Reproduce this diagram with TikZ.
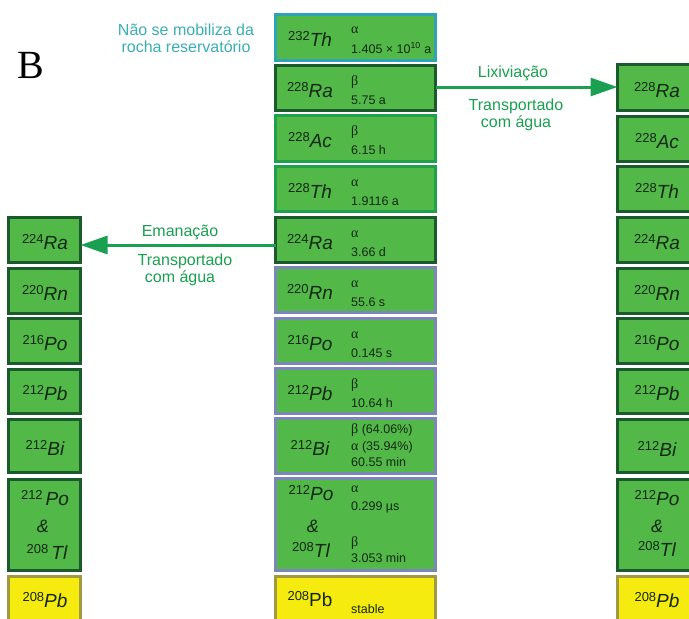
\documentclass[tikz,border=0pt]{standalone}
\usepackage{fontspec}
\setmainfont{Liberation Sans}
\newfontfamily\serifgr{Liberation Serif}
\usetikzlibrary{arrows.meta}
\definecolor{boxfill}{HTML}{52B848}
\definecolor{darkb}{HTML}{1B5A2C}
\definecolor{medb}{HTML}{1FA04A}
\definecolor{blueb}{HTML}{7D86B8}
\definecolor{tealb}{HTML}{2EA3B8}
\definecolor{yelfill}{HTML}{F5EB0F}
\definecolor{oliveb}{HTML}{A09B40}
\definecolor{arrgreen}{HTML}{1AA050}
\definecolor{tealtxt}{HTML}{3AAFB5}
\definecolor{txt}{HTML}{142814}
\newcommand\el[2]{\raisebox{6pt}{\fontsize{13}{13}\selectfont #1}{\fontsize{19}{19}\selectfont\itshape #2}}
\newcommand\elsp[2]{\raisebox{6pt}{\fontsize{13}{13}\selectfont #1}\kern3pt{\fontsize{19}{19}\selectfont\itshape #2}}
\newcommand\elup[2]{\raisebox{6pt}{\fontsize{13}{13}\selectfont #1}{\fontsize{19}{19}\selectfont #2}}
\newcommand\mkbox[6]{\node[#6, minimum width={#4-#2-3}, minimum height={#5-#3-3}] (#1) at ({(#2+#4)/2},{(#3+#5)/2}) {};}
\tikzset{
  cell/.style={draw, line width=3pt, fill=boxfill, inner sep=0pt, outer sep=0pt},
  dk/.style={cell, draw=darkb},
  md/.style={cell, draw=medb},
  bl/.style={cell, draw=blueb},
  tl/.style={cell, draw=tealb},
  yl/.style={cell, draw=oliveb, fill=yelfill},
  elt/.style={anchor=base, inner sep=0pt, text=txt},
  greek/.style={anchor=base west, inner sep=0pt, text=txt, font=\serifgr\fontsize{14}{14}\selectfont},
  hl/.style={anchor=base west, inner sep=0pt, text=txt, font=\fontsize{12.5}{14}\selectfont},
  lab/.style={anchor=base, inner sep=0pt, text=arrgreen, font=\fontsize{16}{18}\selectfont},
  arr/.style={draw=arrgreen, line width=3pt, -{Triangle[length=27pt,width=18pt]}},
}
\begin{document}
\begin{tikzpicture}[x=1pt,y=-1pt]
\clip (0,0) rectangle (689,619);
\fill[white] (0,0) rectangle (689,619);
% middle column
\mkbox{m1}{274}{13}{437}{62}{tl}
\mkbox{m2}{274}{64}{437}{112}{dk}
\mkbox{m3}{274}{114}{437}{163}{md}
\mkbox{m4}{274}{165}{437}{213}{md}
\mkbox{m5}{274}{216}{437}{264}{dk}
\mkbox{m6}{274}{266}{437}{314}{bl}
\mkbox{m7}{274}{317}{437}{365}{bl}
\mkbox{m8}{274}{367}{437}{415}{bl}
\mkbox{m9}{274}{417}{437}{475}{bl}
\mkbox{m10}{274}{477}{437}{572}{bl}
\mkbox{m11}{274}{575}{437}{632}{yl}
% left column
\mkbox{l1}{7}{216}{82}{264}{dk}
\mkbox{l2}{7}{267}{82}{315}{dk}
\mkbox{l3}{7}{317}{82}{365}{dk}
\mkbox{l4}{7}{368}{82}{415}{dk}
\mkbox{l5}{7}{418}{82}{474}{dk}
\mkbox{l6}{7}{478}{82}{572}{dk}
\mkbox{l7}{7}{575}{82}{632}{yl}
% right column
\mkbox{r1}{616}{63}{698}{112}{dk}
\mkbox{r2}{616}{115}{698}{163}{dk}
\mkbox{r3}{616}{165}{698}{213}{dk}
\mkbox{r4}{616}{216}{698}{264}{dk}
\mkbox{r5}{616}{267}{698}{315}{dk}
\mkbox{r6}{616}{317}{698}{365}{dk}
\mkbox{r7}{616}{368}{698}{415}{dk}
\mkbox{r8}{616}{418}{698}{474}{dk}
\mkbox{r9}{616}{478}{698}{572}{dk}
\mkbox{r10}{616}{575}{698}{632}{yl}
% middle texts
\node[elt] (m1e) at (310,46) {\el{232}{Th}};
\node[greek] (m1g) at (351,33) {α};
\node[hl] (m1h) at (351,53) {1.405 × 10\textsuperscript{10} a};
\node[elt] (m2e) at (310,97) {\el{228}{Ra}};
\node[greek] (m2g) at (351,85) {β};
\node[hl] (m2h) at (351,104) {5.75 a};
\node[elt] (m3e) at (310,147) {\el{228}{Ac}};
\node[greek] (m3g) at (351,135) {β};
\node[hl] (m3h) at (351,154) {6.15 h};
\node[elt] (m4e) at (310,198) {\el{228}{Th}};
\node[greek] (m4g) at (351,186) {α};
\node[hl] (m4h) at (351,205) {1.9116 a};
\node[elt] (m5e) at (310,249) {\el{224}{Ra}};
\node[greek] (m5g) at (351,237) {α};
\node[hl] (m5h) at (351,256) {3.66 d};
\node[elt] (m6e) at (310,299) {\el{220}{Rn}};
\node[greek] (m6g) at (351,287) {α};
\node[hl] (m6h) at (351,306) {55.6 s};
\node[elt] (m7e) at (310,350) {\el{216}{Po}};
\node[greek] (m7g) at (351,338) {α};
\node[hl] (m7h) at (351,357) {0.145 s};
\node[elt] (m8e) at (310,400) {\el{212}{Pb}};
\node[greek] (m8g) at (351,388) {β};
\node[hl] (m8h) at (351,407) {10.64 h};
\node[elt] (m9e) at (310,455) {\el{212}{Bi}};
\node[hl] (m9a) at (351,433) {{\serifgr\fontsize{14}{14}\selectfont β} (64.06\%)};
\node[hl] (m9b) at (351,450) {{\serifgr\fontsize{14}{14}\selectfont α} (35.94\%)};
\node[hl] (m9c) at (351,466) {60.55 min};
\node[elt] (m10e) at (311,500) {\el{212}{Po}};
\node[elt] (m10and) at (313,532) {\fontsize{18}{18}\selectfont\itshape \&};
\node[elt] (m10f) at (311,557) {\el{208}{Tl}};
\node[greek] (m10g) at (351,492) {α};
\node[hl] (m10h) at (351,510) {0.299 µs};
\node[greek] (m10i) at (351,546) {β};
\node[hl] (m10j) at (351,562) {3.053 min};
\node[elt] (m11e) at (310,606) {\elup{208}{Pb}};
\node[hl] (m11h) at (351,613) {stable};
% left texts
\node[elt] (l1e) at (45,249) {\el{224}{Ra}};
\node[elt] (l2e) at (45,300) {\el{220}{Rn}};
\node[elt] (l3e) at (45,350) {\el{216}{Po}};
\node[elt] (l4e) at (45,400) {\el{212}{Pb}};
\node[elt] (l5e) at (45,455) {\el{212}{Bi}};
\node[elt] (l6e) at (45,505) {\elsp{212}{Po}};
\node[elt] (l6and) at (43,532) {\fontsize{18}{18}\selectfont\itshape \&};
\node[elt] (l6f) at (47,559) {\elsp{208}{Tl}};
\node[elt] (l7e) at (45,607) {\el{208}{Pb}};
% right texts
\node[elt] (r1e) at (657,97) {\el{228}{Ra}};
\node[elt] (r2e) at (657,148) {\el{228}{Ac}};
\node[elt] (r3e) at (657,198) {\el{228}{Th}};
\node[elt] (r4e) at (657,249) {\el{224}{Ra}};
\node[elt] (r5e) at (657,300) {\el{220}{Rn}};
\node[elt] (r6e) at (657,350) {\el{216}{Po}};
\node[elt] (r7e) at (657,400) {\el{212}{Pb}};
\node[elt] (r8e) at (657,456) {\el{212}{Bi}};
\node[elt] (r9e) at (657,505) {\el{212}{Po}};
\node[elt] (r9and) at (657,532) {\fontsize{18}{18}\selectfont\itshape \&};
\node[elt] (r9f) at (657,556) {\el{208}{Tl}};
\node[elt] (r10e) at (657,607) {\el{208}{Pb}};
% arrows
\draw[arr] ([yshift=1pt]m2.east) -- ([yshift=0.5pt]r1.west);
\draw[arr] ([yshift=-5pt]m5.west) -- ([yshift=-5pt]l1.east);
% labels
\node[lab] (lix) at (513,77) {Lixiviação};
\node[lab] (tr1) at (516,110) {Transportado};
\node[lab] (ca1) at (516,127) {com água};
\node[lab] (ema) at (180,236) {Emanação};
\node[lab] (tr2) at (185,265) {Transportado};
\node[lab] (ca2) at (180,282) {com água};
\node[anchor=base, inner sep=0pt, text=tealtxt, font=\fontsize{16}{18}\selectfont] (nm1) at (186,35) {Não se mobiliza da};
\node[anchor=base, inner sep=0pt, text=tealtxt, font=\fontsize{16}{18}\selectfont] (nm2) at (186,52) {rocha reservatório};
\node[anchor=base, inner sep=0pt, font=\serifgr\fontsize{40}{40}\selectfont] (B) at (31,78) {B};
\end{tikzpicture}
\end{document}
